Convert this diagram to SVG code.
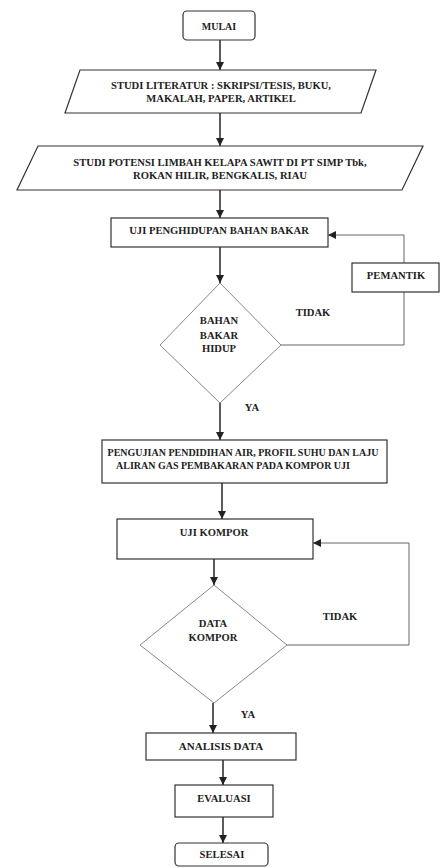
<svg xmlns="http://www.w3.org/2000/svg" width="443" height="868" viewBox="0 0 443 868">
<defs>
<style>
text{font-family:"Liberation Serif","Times New Roman",serif;font-weight:bold;font-size:10.6px;fill:#222;text-anchor:middle}
.sm{font-size:10px}
.box{fill:#fff;stroke:#333;stroke-width:1.2}
.dia{fill:#fff;stroke:#888;stroke-width:1}
.ln{fill:none;stroke:#333;stroke-width:1.6}
.lp{fill:none;stroke:#666;stroke-width:1}
</style>
<marker id="ahb" viewBox="0 0 10 10" refX="10" refY="5" markerWidth="8" markerHeight="8" markerUnits="userSpaceOnUse" orient="auto">
<path d="M0,0 L10,5 L0,10 z" fill="#222"/>
</marker>
</defs>
<rect width="443" height="868" fill="#fff"/>
<g id="connectors">
<line class="ln" x1="220" y1="40" x2="220" y2="70" marker-end="url(#ahb)"/>
<line class="ln" x1="220" y1="113" x2="220" y2="146" marker-end="url(#ahb)"/>
<line class="ln" x1="220" y1="190" x2="220" y2="218" marker-end="url(#ahb)"/>
<line class="ln" x1="220" y1="247" x2="220" y2="283" marker-end="url(#ahb)"/>
<polyline class="lp" points="281,345 404,345 404,292"/>
<polyline class="lp" points="404,263 404,235 328,235" marker-end="url(#ahb)"/>
<line class="ln" x1="220" y1="403" x2="220" y2="440" marker-end="url(#ahb)"/>
<line class="ln" x1="222" y1="483" x2="222" y2="519" marker-end="url(#ahb)"/>
<line class="ln" x1="214" y1="559" x2="214" y2="585" marker-end="url(#ahb)"/>
<polyline class="lp" points="287,645 409,645 409,543 313,543" marker-end="url(#ahb)"/>
<line class="ln" x1="213" y1="703" x2="213" y2="733" marker-end="url(#ahb)"/>
<line class="ln" x1="223" y1="760" x2="223" y2="785" marker-end="url(#ahb)"/>
<line class="ln" x1="223" y1="817" x2="223" y2="843" marker-end="url(#ahb)"/>
</g>
<g id="mulai">
<rect class="box" x="183" y="11" width="72" height="29" rx="4"/>
<text x="219" y="30" class="sm">MULAI</text>
</g>
<g id="studi-literatur">
<polygon class="box" points="80,70 376,70 361,113 65,113"/>
<text x="221" y="88.5">STUDI LITERATUR : SKRIPSI/TESIS, BUKU,</text>
<text x="221" y="101.5">MAKALAH, PAPER, ARTIKEL</text>
</g>
<g id="studi-potensi">
<polygon class="box" points="38,146 423,146 402,190 17,190"/>
<text x="220" y="165.5">STUDI POTENSI LIMBAH KELAPA SAWIT DI PT SIMP Tbk,</text>
<text x="220" y="178.5">ROKAN HILIR, BENGKALIS, RIAU</text>
</g>
<g id="uji-penghidupan">
<rect class="box" x="111" y="218" width="217" height="29"/>
<text x="219" y="234">UJI PENGHIDUPAN BAHAN BAKAR</text>
</g>
<g id="bahan-bakar-hidup">
<polygon class="dia" points="220,283 281,345 220,403 160,345"/>
<text x="219" y="323.5">BAHAN</text>
<text x="219" y="338.5">BAKAR</text>
<text x="219" y="351.5">HIDUP</text>
</g>
<g id="pemantik">
<rect class="box" x="352" y="263" width="87" height="29"/>
<text x="396" y="278.5">PEMANTIK</text>
</g>
<g id="labels">
<text x="313" y="315.5">TIDAK</text>
<text x="252" y="411">YA</text>
<text x="340" y="619.5">TIDAK</text>
<text x="248" y="717.5">YA</text>
</g>
<g id="pengujian">
<rect class="box" x="102" y="440" width="285" height="43"/>
<text x="243" y="455.5" class="sm">PENGUJIAN PENDIDIHAN AIR, PROFIL SUHU DAN LAJU</text>
<text x="233" y="468.5" class="sm">ALIRAN GAS PEMBAKARAN PADA KOMPOR UJI</text>
</g>
<g id="uji-kompor">
<rect class="box" x="117" y="519" width="196" height="40"/>
<text x="214" y="535.5">UJI KOMPOR</text>
</g>
<g id="data-kompor">
<polygon class="dia" points="214,585 287,645 214,703 140,645"/>
<text x="213" y="626.5">DATA</text>
<text x="213" y="640.5">KOMPOR</text>
</g>
<g id="analisis-data">
<rect class="box" x="146" y="733" width="150" height="27"/>
<text x="221" y="750" style="font-size:11px">ANALISIS DATA</text>
</g>
<g id="evaluasi">
<rect class="box" x="175" y="785" width="98" height="32"/>
<text x="224" y="802">EVALUASI</text>
</g>
<g id="selesai">
<rect class="box" x="175" y="843" width="93" height="23" rx="4"/>
<text x="222" y="858">SELESAI</text>
</g>
</svg>
